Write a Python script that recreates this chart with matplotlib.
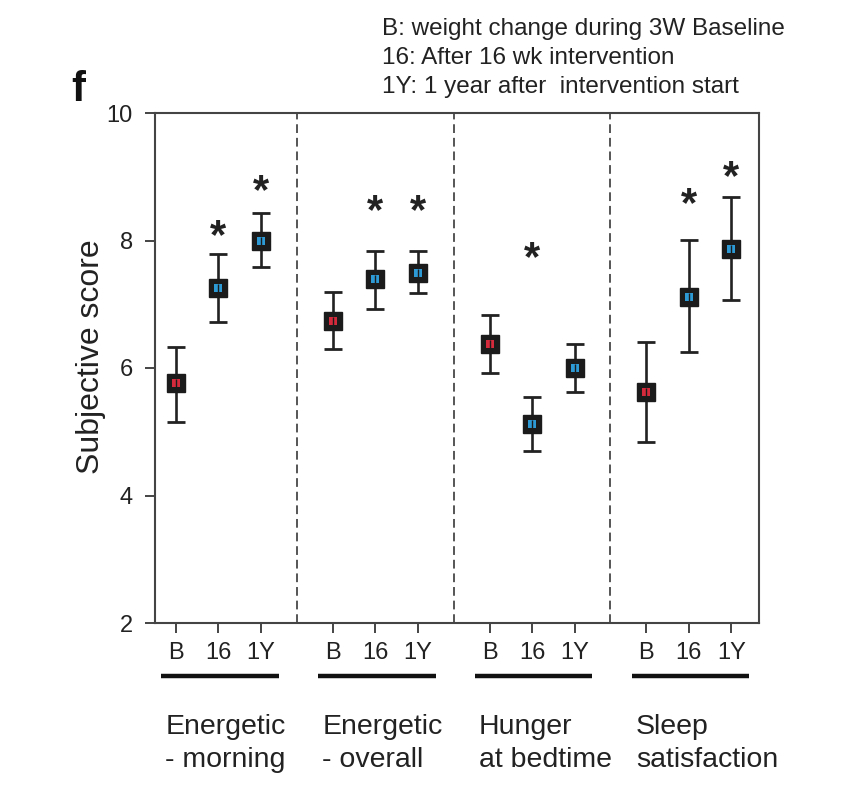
import matplotlib
matplotlib.use('Agg')
import matplotlib.pyplot as plt
import matplotlib.transforms as mtransforms

plt.rcParams['font.family'] = ['Liberation Sans', 'DejaVu Sans']

# data
groups = ['Energetic\n- morning', 'Energetic\n- overall', 'Hunger\nat bedtime',
          'Sleep\nsatisfaction']
timepoints = ['B', '16', '1Y']
means = [[5.76, 7.25, 7.99],
         [6.74, 7.40, 7.49],
         [6.38, 5.12, 6.00],
         [5.62, 7.11, 7.87]]
err_hi = [[6.33, 7.79, 8.43],
          [7.19, 7.84, 7.84],
          [6.83, 5.55, 6.38],
          [6.41, 8.01, 8.68]]
err_lo = [[5.15, 6.72, 7.58],
          [6.30, 6.93, 7.18],
          [5.92, 4.70, 5.62],
          [4.84, 6.25, 7.07]]
# significance stars: (group, timepoint, y)
stars = [(0, 1, 8.16), (0, 2, 8.87),
         (1, 1, 8.56), (1, 2, 8.56),
         (2, 1, 7.82),
         (3, 1, 8.67), (3, 2, 9.09)]
legend_lines = ['B: weight change during 3W Baseline',
                '16: After 16 wk intervention',
                '1Y: 1 year after  intervention start']

gap = 3.69  # spacing between groups in x units
red = '#d42a3c'
blue = '#2d9ad6'
ink = '#222222'

fig = plt.figure(figsize=(8.67, 8.01), dpi=100)
ax = fig.add_axes([155/867, 1-623/801, 604/867, 510/801])

xs_all = []
for g in range(len(groups)):
    for i in range(len(timepoints)):
        x = g*gap + i
        xs_all.append(x)
        m = means[g][i]
        ax.errorbar(x, m, yerr=[[m - err_lo[g][i]], [err_hi[g][i] - m]],
                    fmt='none', ecolor=ink, elinewidth=1.9, capsize=6.5,
                    capthick=2.0, zorder=3)
        ax.plot(x, m, marker='s', ms=13.5, color='#1b1b1b', mec='#1b1b1b',
                zorder=4)
        ax.plot(x, m, marker='s', ms=6, color=red if i == 0 else blue,
                mew=0, zorder=5)
        ax.plot(x, m, marker='|', ms=6, color='#1b1b1b', mew=1.0, zorder=6)

# stars sit a bit lower than the text box centre
star_tr = ax.transData + mtransforms.ScaledTranslation(0, -7/100, fig.dpi_scale_trans)
for g, i, y in stars:
    ax.text(g*gap + i, y, '*', ha='center', va='center', fontsize=30,
            fontweight='bold', color=ink, zorder=6, transform=star_tr)

# dashed separators
for g in range(1, len(groups)):
    ax.axvline(g*gap - (gap - 2)/2, color='#555555', lw=1.4,
               linestyle=(0, (4.5, 2.5)), zorder=1)

ax.set_xlim(-0.494, 13.72)
ax.set_ylim(2, 10)
ax.set_yticks([2, 4, 6, 8, 10])
ax.set_xticks(xs_all)
ax.set_xticklabels(timepoints * len(groups))
ax.tick_params(axis='both', direction='out', length=7, width=1.4,
               color='#444444', labelsize=17, labelcolor=ink)
ax.tick_params(axis='x', pad=7)
ax.tick_params(axis='y', pad=9)
for s in ax.spines.values():
    s.set_color('#444444')
    s.set_linewidth(1.5)

# group underline and names
trans = ax.get_xaxis_transform()
for g, name in enumerate(groups):
    x0 = g*gap
    ax.plot([x0 - 0.35, x0 + 2.42], [-0.103, -0.103], color='#111111', lw=3.2,
            transform=trans, clip_on=False, solid_capstyle='butt')
    ax.text(x0 - 0.25, -0.178, name, transform=trans, ha='left', va='top',
            fontsize=20.5, color=ink, linespacing=1.34)

fig.text(91/867, 1-357/801, 'Subjective score', rotation=90, ha='center',
         va='center', fontsize=23, color=ink)
fig.text(78/867, 1-90/801, 'f', ha='center', va='center', fontsize=30,
         fontweight='bold', color='#111111')
fig.text(382/867, 1-18/801, '\n'.join(legend_lines), ha='left', va='top',
         fontsize=17.5, color=ink, linespacing=1.42)

fig.savefig('out.png', dpi=100)
